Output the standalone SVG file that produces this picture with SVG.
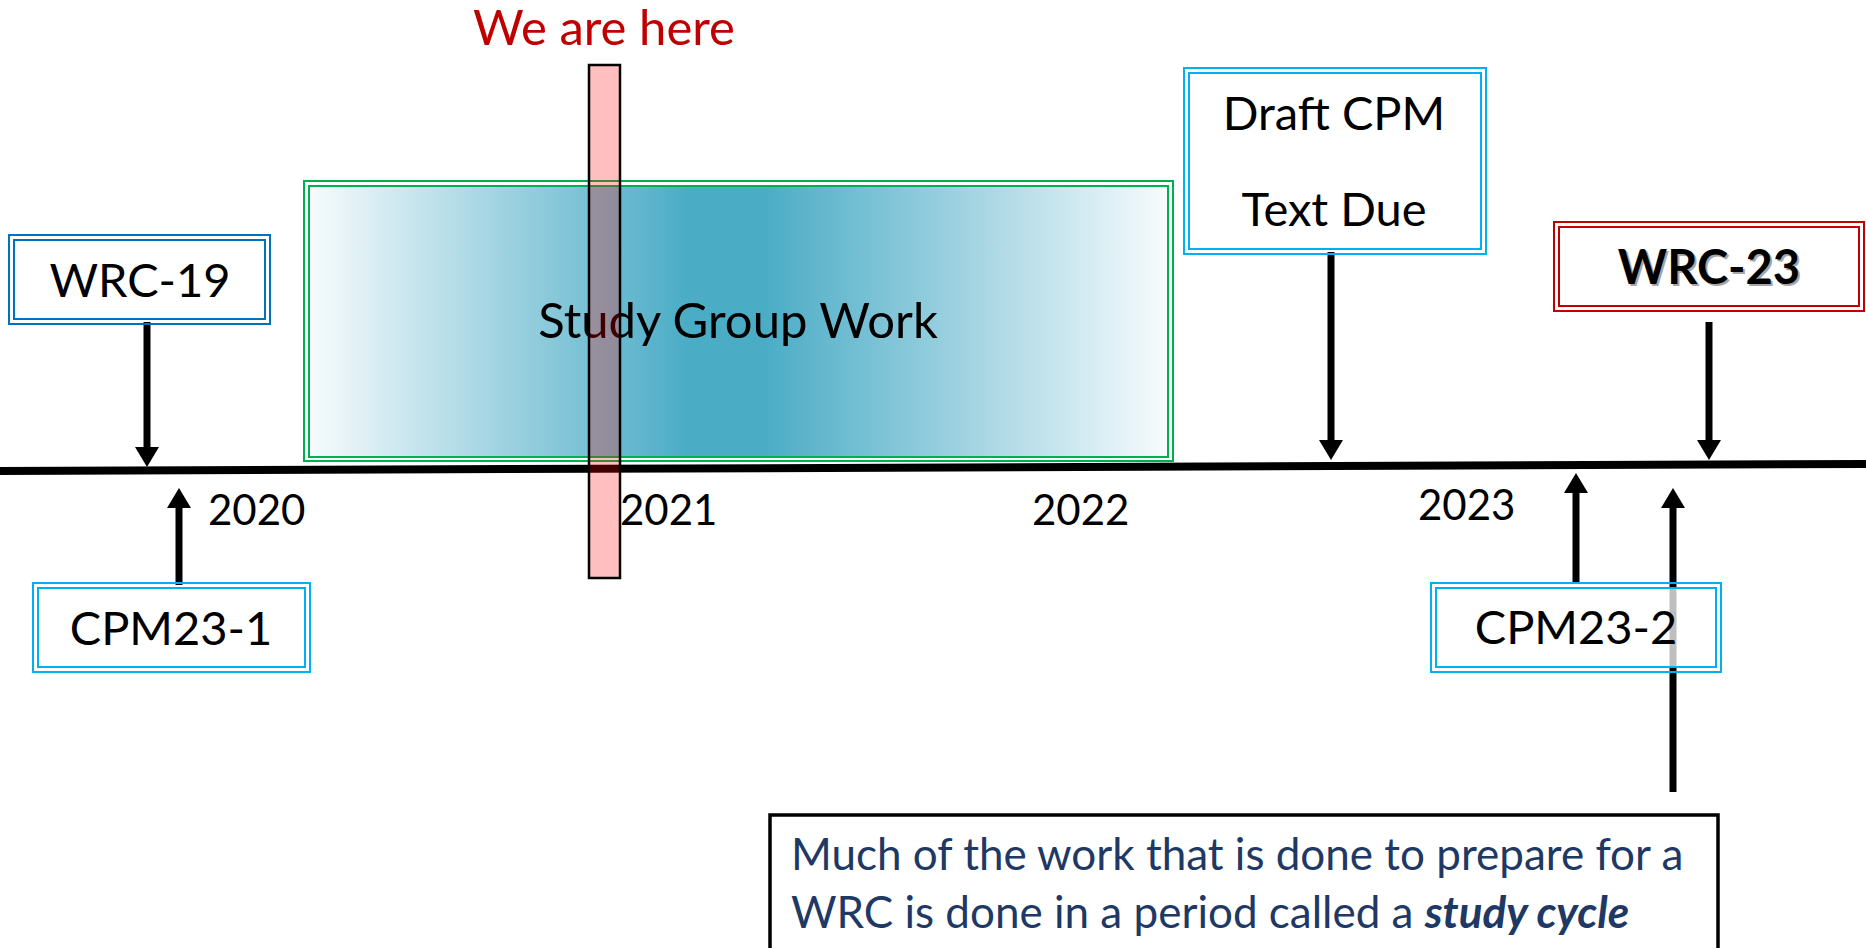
<svg xmlns="http://www.w3.org/2000/svg" width="1866" height="948" viewBox="0 0 1866 948">
<defs>
<style>
.lbl{font-family:Lato,"Open Sans","Liberation Sans",sans-serif;font-size:47px;fill:#000;text-anchor:middle}
.yr{font-family:Lato,"Open Sans","Liberation Sans",sans-serif;font-size:42px;fill:#000}
.b2{fill:none;stroke-width:2}
.blue{stroke:#0070C0}
.cyan{stroke:#00B0F0}
.red{stroke:#C00000}
.green{stroke:#00B050}
.arr{stroke:#000;stroke-width:7;fill:none;marker-end:url(#head)}
.note{font-family:Lato,"Open Sans","Liberation Sans",sans-serif;font-size:44px;fill:#203864}
</style>
<marker id="head" viewBox="0 0 20 24" refX="1" refY="12" markerWidth="20" markerHeight="24" markerUnits="userSpaceOnUse" orient="auto">
<path d="M0,0 L20,12 L0,24 Z" fill="#000"/>
</marker>
<linearGradient id="sg" x1="0" y1="0" x2="1" y2="0">
<stop offset="0" stop-color="#F7FBFD"/>
<stop offset="0.44" stop-color="#4BACC6"/>
<stop offset="0.53" stop-color="#4BACC6"/>
<stop offset="1" stop-color="#F7FBFD"/>
</linearGradient>
</defs>
<rect width="1866" height="948" fill="#fff"/>

<g id="study-group-work">
<rect x="304" y="181" width="869" height="280" class="b2 green"/>
<rect x="309" y="186" width="859" height="271" fill="url(#sg)" class="green" stroke-width="2"/>
<text x="738" y="338" class="lbl" style="font-size:49px">Study Group Work</text>
</g>

<g id="timeline">
<line x1="0" y1="471" x2="1866" y2="464" stroke="#000" stroke-width="8"/>
<text x="208" y="525" class="yr">2020</text>
<text x="620" y="525" class="yr">2021</text>
<text x="1032" y="525" class="yr">2022</text>
<text x="1418" y="520" class="yr">2023</text>
</g>

<g id="connectors">
<line x1="147" y1="322" x2="147" y2="448" class="arr"/>
<line x1="179" y1="585" x2="179" y2="507" class="arr"/>
<line x1="1331" y1="252" x2="1331" y2="441" class="arr"/>
<line x1="1709" y1="322" x2="1709" y2="441" class="arr"/>
<line x1="1576" y1="583" x2="1576" y2="492" class="arr"/>
<line x1="1673" y1="792" x2="1673" y2="507" class="arr"/>
</g>

<g id="wrc-19">
<rect x="9" y="235" width="261" height="89" class="b2 blue"/>
<rect x="14" y="240" width="251" height="79" fill="#fff" stroke-width="2" class="blue"/>
<text x="140" y="297" class="lbl">WRC-19</text>
</g>

<g id="cpm23-1">
<rect x="33" y="583" width="277" height="89" class="b2 cyan"/>
<rect x="38" y="588" width="267" height="79" fill="#fff" stroke-width="2" class="cyan"/>
<text x="171" y="645" class="lbl">CPM23-1</text>
</g>

<g id="draft-cpm">
<rect x="1184" y="68" width="302" height="186" class="b2 cyan"/>
<rect x="1189" y="73" width="292" height="176" fill="#fff" stroke-width="2" class="cyan"/>
<text x="1334" y="130" class="lbl">Draft CPM</text>
<text x="1334" y="226" class="lbl">Text Due</text>
</g>

<g id="wrc-23">
<rect x="1554" y="222" width="310" height="89" class="b2 red"/>
<rect x="1559" y="227" width="300" height="79" fill="#fff" stroke-width="2" class="red"/>
<text x="1711" y="286" class="lbl" font-weight="bold" style="fill:#A6A6A6">WRC-23</text>
<text x="1709" y="284" class="lbl" font-weight="bold">WRC-23</text>
</g>

<g id="cpm23-2">
<rect x="1431" y="583" width="290" height="89" class="b2 cyan"/>
<rect x="1436" y="588" width="280" height="79" fill="#fff" fill-opacity="0.75" stroke-width="2" class="cyan"/>
<text x="1576" y="644" class="lbl">CPM23-2</text>
</g>

<g id="note">
<rect x="770" y="815" width="948" height="160" fill="#fff" stroke="#000" stroke-width="3.5"/>
<text x="791" y="870" class="note">Much of the work that is done to prepare for a</text>
<text x="791" y="928" class="note">WRC is done in a period called a <tspan font-weight="bold" font-style="italic">study cycle</tspan></text>
</g>

<g id="we-are-here">
<text x="604" y="45" class="lbl" style="font-size:49px;fill:#C00000">We are here</text>
<rect x="589" y="65" width="31" height="513" fill="#FF0000" fill-opacity="0.25" stroke="#000" stroke-width="2.5"/>
</g>
</svg>
